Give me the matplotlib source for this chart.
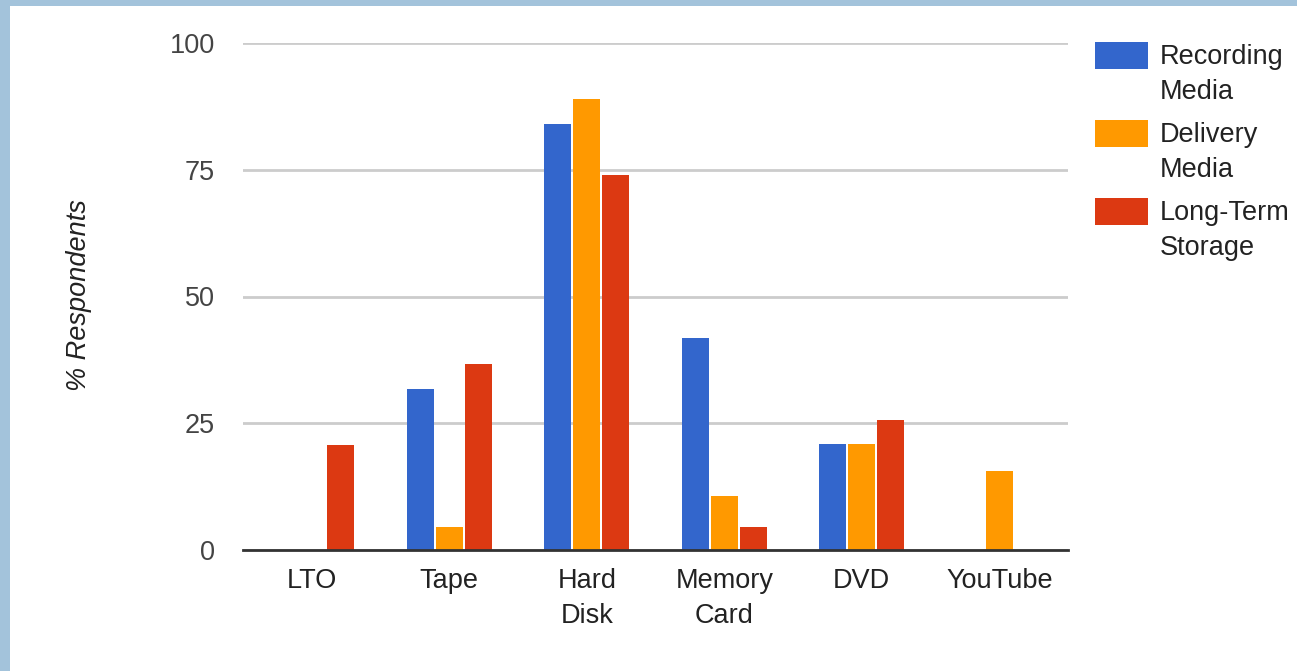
#!/usr/bin/env python3
"""Recording / delivery / storage media survey bar chart."""

import matplotlib
matplotlib.use("Agg")
import matplotlib.pyplot as plt
from matplotlib.patches import Rectangle
import numpy as np

categories = ["LTO", "Tape", "Hard\nDisk", "Memory\nCard", "DVD", "YouTube"]
series = ["Recording\nMedia", "Delivery\nMedia", "Long-Term\nStorage"]
recording = [0, 31.8, 84.1, 41.8, 20.9, 0]
delivery = [0, 4.5, 88.9, 10.7, 20.9, 15.5]
long_term = [20.8, 36.6, 73.9, 4.5, 25.6, 0]
y_ticks = [0, 25, 50, 75, 100]

colors = ["#3366CC", "#FF9900", "#DC3912"]

plt.rcParams["font.family"] = ["Liberation Sans", "DejaVu Sans"]

W, H = 1297, 671
fig = plt.figure(figsize=(W / 100, H / 100), dpi=100, facecolor="#a3c3db")
# white card over the blue backdrop
fig.patches.append(Rectangle((10 / W, 0), 1, 1 - 6 / H, transform=fig.transFigure,
                             facecolor="white", edgecolor="none", zorder=-5))

ax = fig.add_axes([243 / W, 1 - 550 / H, 825 / W, 507 / H])
ax.set_facecolor("none")

x = np.arange(len(categories)) + 0.5
step, width = 0.211, 0.196
for k, (vals, c) in enumerate(zip([recording, delivery, long_term], colors)):
    ax.bar(x + (k - 1) * step, vals, width, color=c, zorder=3)

ax.set_xlim(0, len(categories))
ax.set_ylim(0, 100)
ax.set_yticks(y_ticks)
ax.set_yticklabels([str(v) for v in y_ticks])
ax.set_xticks(x)
ax.set_xticklabels(categories, linespacing=1.45)
ax.tick_params(axis="y", length=0, pad=20, labelsize=19.5, labelcolor="#444444")
ax.tick_params(axis="x", length=0, pad=13, labelsize=19.5, labelcolor="#222222")
ax.grid(axis="y", color="#cccccc", linewidth=2, zorder=1)
for s in ["top", "right", "left"]:
    ax.spines[s].set_visible(False)
ax.spines["bottom"].set_color("#333333")
ax.spines["bottom"].set_linewidth(2)
ax.spines["bottom"].set_zorder(4)

fig.text(79 / W, 1 - 295 / H, "% Respondents", rotation=90, ha="center", va="center",
         fontsize=19.5, style="italic", color="#222222")

# legend drawn by hand to match wrapped labels
for k, (name, c) in enumerate(zip(series, colors)):
    top = 42 + k * 78
    fig.patches.append(Rectangle((1095 / W, 1 - (top + 27) / H), 53 / W, 27 / H,
                                 transform=fig.transFigure, facecolor=c,
                                 edgecolor="none", zorder=2))
    fig.text(1160 / W, 1 - (top + 2) / H, name, ha="left", va="top",
             fontsize=19.5, color="#222222", linespacing=1.45)

fig.savefig("out.png", dpi=100, facecolor=fig.get_facecolor())
